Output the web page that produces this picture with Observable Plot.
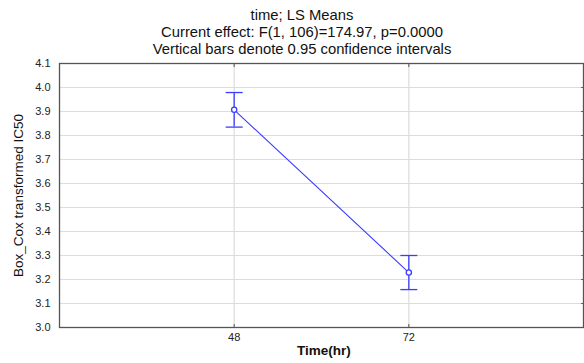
<!DOCTYPE html>
<html>
<head>
<meta charset="utf-8">
<script src="https://cdn.jsdelivr.net/npm/d3@7"></script>
<script src="https://cdn.jsdelivr.net/npm/@observablehq/plot@0.6"></script>
<style>
  html, body { margin: 0; padding: 0; background: #fff; }
  #wrap { position: relative; width: 584px; height: 363px; overflow: hidden; font-family: "Liberation Sans", Arial, sans-serif; }
  .t { position: absolute; left: 0; width: 604px; text-align: center; font-size: 14.8px; line-height: 17px; color: #111; white-space: nowrap; }
  #xl { position: absolute; left: 0; width: 648px; text-align: center; top: 343px; font-size: 13.5px; font-weight: bold; color: #111; }
</style>
</head>
<body>
<div id="wrap">
  <div id="chart"></div>
  <div class="t" style="top:7px">time; LS Means</div>
  <div class="t" style="top:24px">Current effect: F(1, 106)=174.97, p=0.0000</div>
  <div class="t" style="top:41px">Vertical bars denote 0.95 confidence intervals</div>
  <div id="xl">Time(hr)</div>
</div>
<script>
const times = [48, 72];
const means = [3.907, 3.229];
const lower = [3.835, 3.158];
const upper = [3.979, 3.300];
const yTicks = [3.0, 3.1, 3.2, 3.3, 3.4, 3.5, 3.6, 3.7, 3.8, 3.9, 4.0, 4.1];

const data = times.map((t, i) => ({time: t, mean: means[i], lo: lower[i], hi: upper[i]}));
const blue = "#3c3cff";

// horizontal cap symbol for the confidence-interval whiskers
const capSymbol = {draw(ctx) { ctx.moveTo(-8.5, 0); ctx.lineTo(8.5, 0); }};

const chart = Plot.plot({
  width: 584,
  height: 363,
  marginLeft: 59,
  marginRight: 1,
  marginTop: 63,
  marginBottom: 36,
  style: {fontFamily: "'Liberation Sans', Arial, sans-serif", fontSize: "11px", color: "#222", background: "#fff"},
  x: {domain: [24, 96], label: null},
  y: {domain: [3.0, 4.1], label: null},
  marks: [
    Plot.gridY(yTicks.slice(1, -1), {stroke: "#dcdcdc", strokeOpacity: 1, strokeWidth: 1.2}),
    Plot.gridX(times, {stroke: "#dcdcdc", strokeOpacity: 1, strokeWidth: 1.2}),
    Plot.axisY(yTicks, {tickSize: 0, tickPadding: 9, tickFormat: d => d.toFixed(1), label: null}),
    Plot.axisX(times, {tickSize: 0, tickPadding: 6, tickFormat: d => String(d), label: null}),
    Plot.axisY(yTicks, {anchor: "right", tickSize: -3, tickFormat: () => "", label: null, stroke: "#666"}),
    Plot.axisX(times, {anchor: "bottom", tickSize: -3, tickFormat: () => "", label: null, stroke: "#555"}),
    Plot.axisX(times, {anchor: "top", tickSize: -3, tickFormat: () => "", label: null, stroke: "#555"}),
    Plot.frame({stroke: "#555", strokeWidth: 1.3}),
    Plot.line(data, {x: "time", y: "mean", stroke: blue, strokeWidth: 1.1}),
    Plot.ruleX(data, {x: "time", y1: "lo", y2: "hi", stroke: blue, strokeWidth: 1.3}),
    Plot.dot(data, {x: "time", y: "hi", symbol: capSymbol, stroke: blue, strokeWidth: 1.3, r: 3}),
    Plot.dot(data, {x: "time", y: "lo", symbol: capSymbol, stroke: blue, strokeWidth: 1.3, r: 3}),
    Plot.dot(data, {x: "time", y: "mean", r: 2.6, stroke: blue, strokeWidth: 1.3, fill: "white"}),
    Plot.text(["Box_Cox transformed IC50"], {frameAnchor: "left", textAnchor: "middle", dx: -41, rotate: -90, fontSize: 13.5, fill: "#111", text: d => d})
  ]
});
document.getElementById("chart").appendChild(chart);
</script>
</body>
</html>
